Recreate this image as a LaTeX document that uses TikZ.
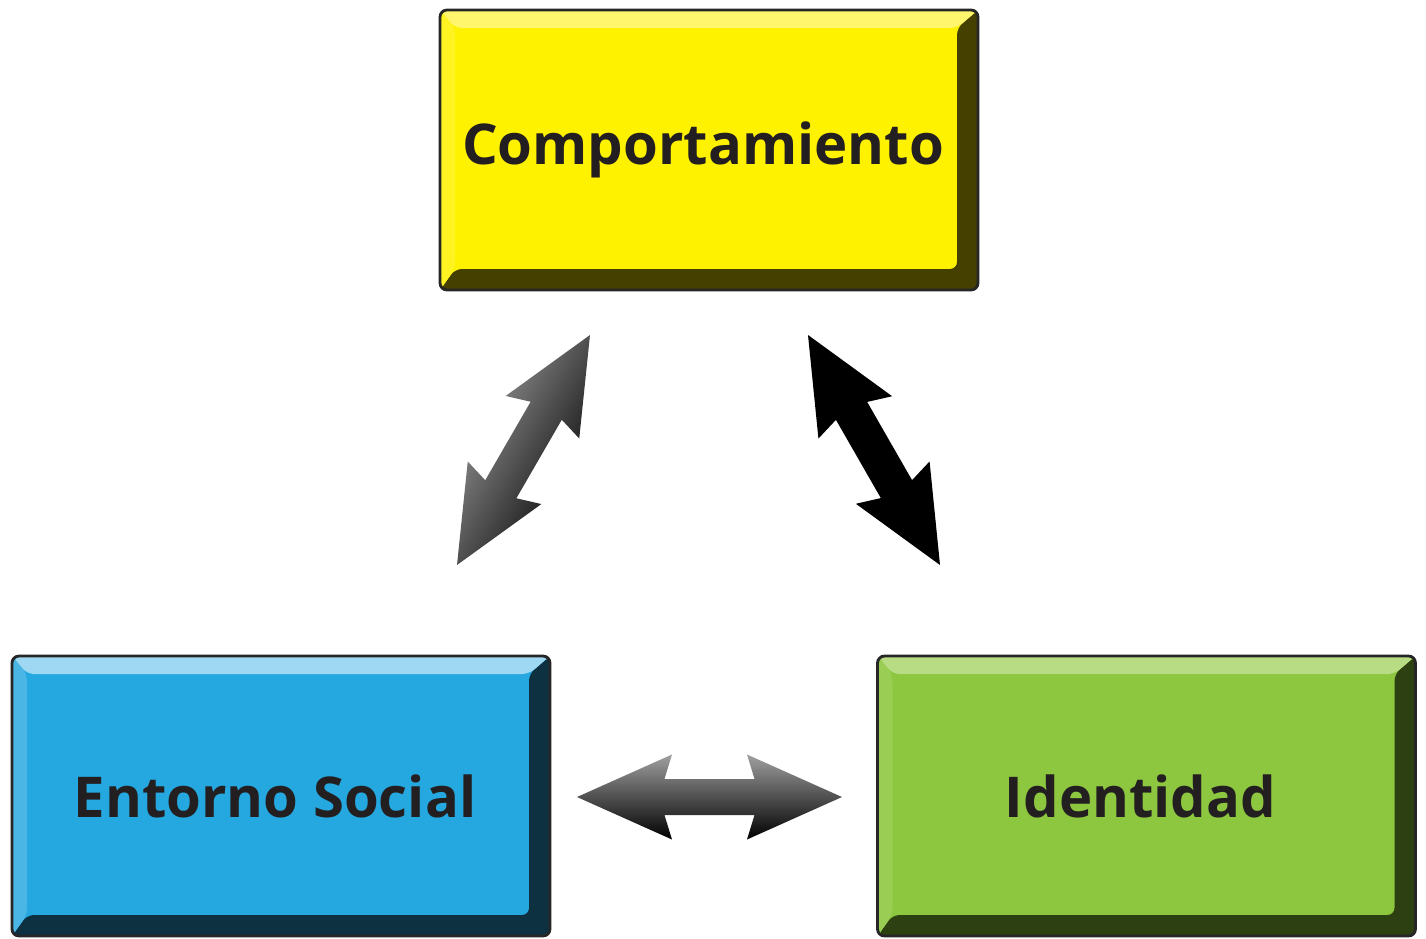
\documentclass[tikz,border=0pt]{standalone}
\usepackage{fontspec}
\setmainfont{Open Sans}
\usepackage{tikz}
\usetikzlibrary{calc,positioning}
\definecolor{amarillo}{HTML}{FFF200}
\definecolor{amarilloluz}{HTML}{FFF66E}
\definecolor{amarillosombra}{HTML}{453F00}
\definecolor{azul}{HTML}{25A8E0}
\definecolor{azulluz}{HTML}{9FD8F2}
\definecolor{azulsombra}{HTML}{0E3142}
\definecolor{verde}{HTML}{8DC63F}
\definecolor{verdeluz}{HTML}{B8DC84}
\definecolor{verdesombra}{HTML}{2C4012}
\definecolor{texto}{HTML}{231F20}
\tikzset{
    caja/.style n args={3}{
           rectangle,
           rounded corners=4pt,
           draw=black!85, line width=1.6pt,
           fill=#1,
           minimum width=10.76cm,
           minimum height=5.6cm,
           text=texto,
           font=\bfseries\fontsize{32}{36}\selectfont,
           execute at begin node=\hspace*{-0.24cm},
           path picture={
             \fill[#3] (path picture bounding box.south west)
                -- (path picture bounding box.south east)
                -- (path picture bounding box.north east)
                -- ($(path picture bounding box.north east)+(-0.42,-0.36)$)
                -- ($(path picture bounding box.south east)+(-0.42,0.42)$)
                -- ($(path picture bounding box.south west)+(0.3,0.42)$) -- cycle;
             \fill[#2] (path picture bounding box.north west)
                -- (path picture bounding box.north east)
                -- ($(path picture bounding box.north east)+(-0.42,-0.36)$)
                -- ($(path picture bounding box.north west)+(0.3,-0.36)$) -- cycle;
             \fill[#2!30!#1] (path picture bounding box.north west)
                -- ($(path picture bounding box.north west)+(0.3,-0.36)$)
                -- ($(path picture bounding box.south west)+(0.3,0.42)$)
                -- (path picture bounding box.south west) -- cycle;
           }},
    flecha/.style={
           draw=none,
           to path={
             -- ($(\tikztostart)!1.9cm!(\tikztotarget)!0.85cm!90:(\tikztotarget)$)
             -- ($(\tikztostart)!1.75cm!(\tikztotarget)!0.36cm!90:(\tikztotarget)$)
             -- ($(\tikztotarget)!1.75cm!(\tikztostart)!0.36cm!-90:(\tikztostart)$)
             -- ($(\tikztotarget)!1.9cm!(\tikztostart)!0.85cm!-90:(\tikztostart)$)
             -- (\tikztotarget)
             -- ($(\tikztotarget)!1.9cm!(\tikztostart)!0.85cm!90:(\tikztostart)$)
             -- ($(\tikztotarget)!1.75cm!(\tikztostart)!0.36cm!90:(\tikztostart)$)
             -- ($(\tikztostart)!1.75cm!(\tikztotarget)!0.36cm!-90:(\tikztotarget)$)
             -- ($(\tikztostart)!1.9cm!(\tikztotarget)!0.85cm!-90:(\tikztotarget)$)
             -- cycle}}
}
\begin{document}
\begin{tikzpicture}
        \useasboundingbox (0,0) rectangle (28.52,-18.76);

        \node[caja={amarillo}{amarilloluz}{amarillosombra}] (comp) at (14.18,-3.0) {Comportamiento};
        \node[caja={azul}{azulluz}{azulsombra}] (ent) at (5.62,-15.92) {Entorno Social};
        \node[caja={verde}{verdeluz}{verdesombra}] (iden) at (22.93,-15.92) {Identidad};

        \coordinate (a1) at (9.14,-11.3);
        \coordinate (b1) at (11.8,-6.7);
        \coordinate (a2) at (16.16,-6.7);
        \coordinate (b2) at (18.8,-11.3);
        \coordinate (a3) at (11.54,-15.94);
        \coordinate (b3) at (16.84,-15.94);

        \path[flecha, top color=gray!75, middle color=black!75, bottom color=black, shading angle=60] (a1) to (b1);
        \path[flecha, top color=black, middle color=gray!45!black, bottom color=black, shading angle=-60] (a2) to (b2);
        \path[flecha, top color=gray!75, middle color=gray!40!black, bottom color=black] (a3) to (b3);
\end{tikzpicture}
\end{document}
